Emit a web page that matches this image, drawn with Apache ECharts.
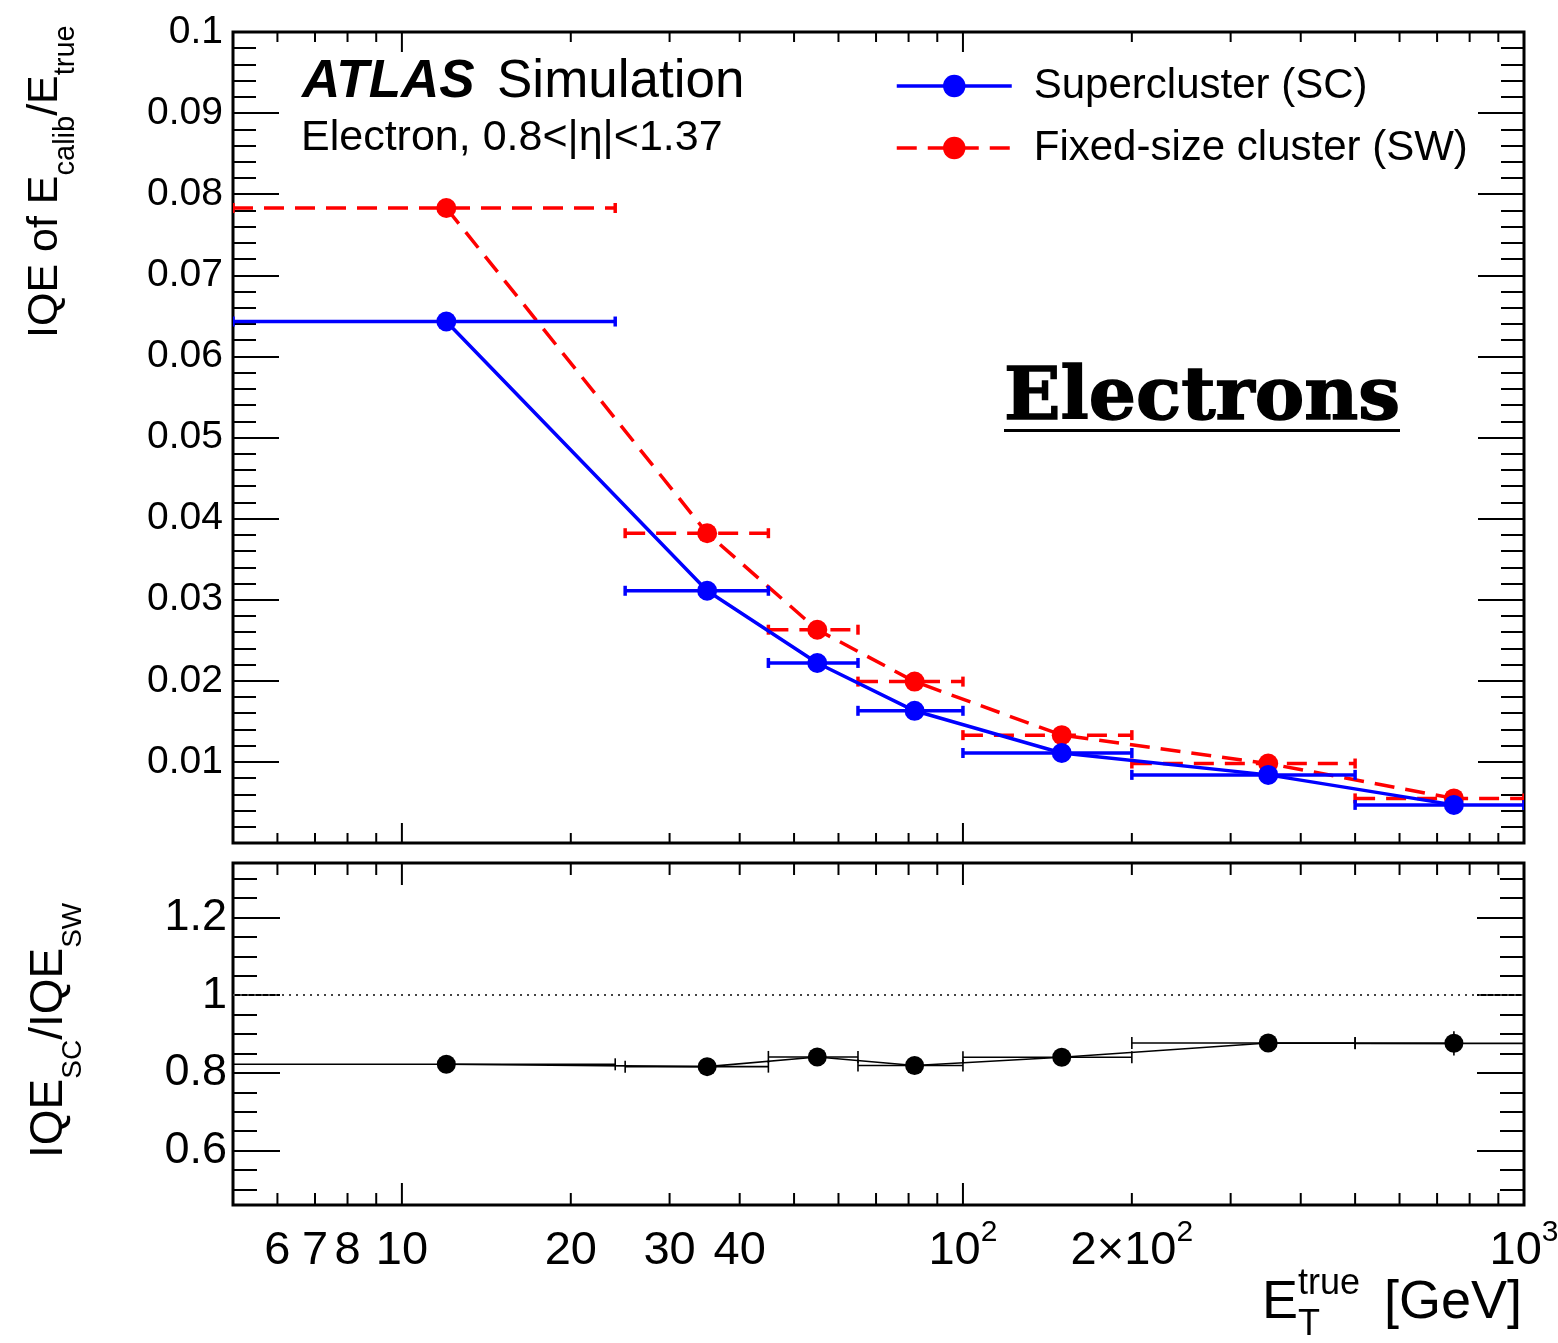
<!DOCTYPE html>
<html>
<head>
<meta charset="utf-8">
<title>IQE of E_calib/E_true vs E_T^true</title>
<script src="https://cdn.jsdelivr.net/npm/echarts@6/dist/echarts.min.js"></script>
<style>
  html, body { margin: 0; padding: 0; background: #fff; }
  #chart { width: 1558px; height: 1343px; }
</style>
</head>
<body>
<div id="chart"></div>
<script>
// ---- data -------------------------------------------------------------
// E_T^true bin centres and edges [GeV]
const etCentre = [12, 35, 55, 82, 150, 350, 750];
const binLow   = [5, 25, 45, 65, 100, 200, 500];
const binHigh  = [24, 45, 65, 100, 200, 500, 1000];
// IQE of E_calib/E_true
const iqeSC = [0.0643, 0.0311, 0.0222, 0.0163, 0.0111, 0.0084, 0.0047];
const iqeSW = [0.0783, 0.0382, 0.0263, 0.0199, 0.0133, 0.0098, 0.0055];
// ratio IQE_SC / IQE_SW and its statistical uncertainty
const ratio    = [0.822, 0.816, 0.841, 0.819, 0.840, 0.877, 0.876];
const ratioErr = [0.010, 0.010, 0.010, 0.010, 0.010, 0.015, 0.031];
// log x-axis ticks and their labels: [value, mantissa text, exponent text]
const xMajorTicks = [10, 100, 1000];
const xMinorTicks = [6, 7, 8, 9, 20, 30, 40, 50, 60, 70, 80, 90, 200, 300, 400, 500, 600, 700, 800, 900];
const xTickLabels = [[6, '6'], [7, '7'], [8, '8'], [10, '10'], [20, '20'], [30, '30'], [40, '40'],
                     [100, '10', '2'], [200, '2\u00d710', '2'], [1000, '10', '3']];

// ---- text helpers -----------------------------------------------------
const FONT = '"Liberation Sans", Arial, Helvetica, sans-serif';
const SERIF = '"DejaVu Serif", serif';
const KMID = 0.3465; // distance from 'middle' to alphabetic baseline, in em
const mctx = document.createElement('canvas').getContext('2d');
function measure(s, size, weight, style, family) {
  mctx.font = (style || 'normal') + ' ' + (weight || 'normal') + ' ' + size + 'px ' + (family || FONT);
  return mctx.measureText(s).width;
}
function txt(s, x, baseline, size, o) {
  o = o || {};
  const style = {
    text: s, fontSize: size, fontFamily: o.family || FONT, fontWeight: o.weight || 'normal',
    fontStyle: o.style || 'normal', fill: '#000', align: o.align || 'left', verticalAlign: 'middle'
  };
  if (o.stroke) { style.stroke = '#000'; style.lineWidth = o.stroke; }
  return { type: 'text', x: x, y: baseline - KMID * size, silent: true, scaleX: o.scaleX || 1, style: style };
}
// pieces laid out one after another on a common baseline (dy shifts sub/superscripts)
function run(pieces) {
  let x = 0;
  return pieces.map(function (p) {
    const el = txt(p.t, x, p.dy || 0, p.size, p);
    x += measure(p.t, p.size, p.weight, p.style, p.family);
    return el;
  });
}

// ---- custom renderers -------------------------------------------------
function xTicks(majorLen, minorLen) {
  return function (params, api) {
    const cs = params.coordSys;
    const px = api.coord([api.value(0), api.value(1)])[0];
    const len = api.value(2) ? majorLen : minorLen;
    const yb = cs.y + cs.height;
    const st = { stroke: '#000', lineWidth: 2 };
    return {
      type: 'group', children: [
        { type: 'line', shape: { x1: px, y1: yb, x2: px, y2: yb - len }, style: st },
        { type: 'line', shape: { x1: px, y1: cs.y, x2: px, y2: cs.y + len }, style: st }
      ]
    };
  };
}
function errBars(color, width, dash, cap) {
  return function (params, api) {
    const y = api.value(2);
    const a = api.coord([api.value(0), y]);
    const b = api.coord([api.value(1), y]);
    const solid = { stroke: color, lineWidth: width };
    const children = [
      { type: 'line', shape: { x1: a[0], y1: a[1], x2: b[0], y2: b[1] },
        style: { stroke: color, lineWidth: width, lineDash: dash } },
      { type: 'line', shape: { x1: a[0], y1: a[1] - cap, x2: a[0], y2: a[1] + cap }, style: solid },
      { type: 'line', shape: { x1: b[0], y1: b[1] - cap, x2: b[0], y2: b[1] + cap }, style: solid }
    ];
    const e = api.value(3);
    if (e) {
      const lo = api.coord([api.value(4), y - e]);
      const hi = api.coord([api.value(4), y + e]);
      children.push({ type: 'line', shape: { x1: lo[0], y1: lo[1], x2: hi[0], y2: hi[1] }, style: solid });
    }
    return { type: 'group', children: children };
  };
}
function xLabels(params, api) {
  const lab = xTickLabels[params.dataIndex];
  const cs = params.coordSys;
  const px = api.coord([api.value(0), api.value(1)])[0];
  const base = cs.y + cs.height + 62;
  const wb = measure(lab[1], 47);
  const ws = lab[2] ? measure(lab[2], 30) : 0;
  const x0 = px - (wb + ws) / 2;
  const children = [txt(lab[1], x0, base, 47)];
  if (lab[2]) children.push(txt(lab[2], x0 + wb, base - 24, 30));
  return { type: 'group', children: children };
}

// ---- series data ------------------------------------------------------
const zip = (xs, ys) => xs.map((x, i) => [x, ys[i]]);
const barData = (ys, es) => ys.map((y, i) => [binLow[i], binHigh[i], y, es ? es[i] : 0, etCentre[i]]);
const tickData = (yRef) => xMajorTicks.map(v => [v, yRef, 1]).concat(xMinorTicks.map(v => [v, yRef, 0]));

const fmt = v => (Math.abs(v) < 1e-9 ? '' : String(+v.toFixed(3)));

const chart = echarts.init(document.getElementById('chart'), null, { renderer: 'canvas' });

const hiddenX = {
  type: 'log', logBase: 10, min: 5, max: 1000,
  axisLine: { show: false }, axisTick: { show: false }, axisLabel: { show: false }, splitLine: { show: false }
};
const tickStyle = { color: '#000', width: 2 };
const tagScale = 396 / measure('Electrons', 72, 'bold', 'normal', SERIF);

chart.setOption({
  animation: false,
  backgroundColor: '#fff',
  grid: [
    { left: 233, top: 32, width: 1291, height: 811, show: true, borderColor: '#000', borderWidth: 3, backgroundColor: 'transparent' },
    { left: 233, top: 863, width: 1291, height: 342, show: true, borderColor: '#000', borderWidth: 3, backgroundColor: 'transparent' }
  ],
  xAxis: [
    Object.assign({ gridIndex: 0 }, hiddenX),
    Object.assign({ gridIndex: 1 }, hiddenX)
  ],
  yAxis: [
    {
      gridIndex: 0, type: 'value', min: 0, max: 0.1, interval: 0.01,
      axisLine: { show: false }, splitLine: { show: false },
      axisTick: { inside: true, length: 46, lineStyle: tickStyle },
      minorTick: { show: true, splitNumber: 5, length: 23, lineStyle: tickStyle },
      axisLabel: { fontSize: 39, fontFamily: FONT, color: '#000', margin: 10, formatter: fmt }
    },
    {
      gridIndex: 0, type: 'value', position: 'right', min: 0, max: 0.1, interval: 0.01,
      axisLine: { show: false }, splitLine: { show: false }, axisLabel: { show: false },
      axisTick: { inside: true, length: 46, lineStyle: tickStyle },
      minorTick: { show: true, splitNumber: 5, length: 23, lineStyle: tickStyle }
    },
    {
      gridIndex: 1, type: 'value', min: 0.46, max: 1.34, minInterval: 0.2, maxInterval: 0.2,
      axisLine: { show: false }, splitLine: { show: false },
      axisTick: { inside: true, length: 47, lineStyle: tickStyle },
      minorTick: { show: true, splitNumber: 4, length: 24, lineStyle: tickStyle },
      axisLabel: { fontSize: 45, fontFamily: FONT, color: '#000', margin: 6, formatter: fmt,
                   showMinLabel: false, showMaxLabel: false }
    },
    {
      gridIndex: 1, type: 'value', position: 'right', min: 0.46, max: 1.34, minInterval: 0.2, maxInterval: 0.2,
      axisLine: { show: false }, splitLine: { show: false }, axisLabel: { show: false },
      axisTick: { inside: true, length: 47, lineStyle: tickStyle },
      minorTick: { show: true, splitNumber: 4, length: 24, lineStyle: tickStyle }
    }
  ],
  legend: {
    orient: 'vertical', left: 895, top: 65, padding: 0,
    itemWidth: 115, itemHeight: 28, itemGap: 20,
    selectedMode: false,
    lineStyle: { width: 3.5 },
    textStyle: { fontSize: 42, fontFamily: FONT, color: '#000', lineHeight: 42, padding: [0, 0, 0, 17] },
    data: ['Supercluster (SC)', 'Fixed-size cluster (SW)']
  },
  series: [
    // log-axis ticks on both panels
    { type: 'custom', xAxisIndex: 0, yAxisIndex: 0, silent: true, z: 10, renderItem: xTicks(20, 10), data: tickData(0.05) },
    { type: 'custom', xAxisIndex: 1, yAxisIndex: 2, silent: true, z: 10, renderItem: xTicks(22, 12), data: tickData(1) },
    { type: 'custom', xAxisIndex: 1, yAxisIndex: 2, silent: true, z: 10, renderItem: xLabels,
      data: xTickLabels.map(l => [l[0], 1]) },

    // fixed-size cluster (SW)
    { type: 'custom', xAxisIndex: 0, yAxisIndex: 0, silent: true, clip: true, z: 2,
      encode: { x: [0, 1], y: 2 },
      renderItem: errBars('#ff0000', 3.5, [20, 11], 5), data: barData(iqeSW) },
    { name: 'Fixed-size cluster (SW)', type: 'line', xAxisIndex: 0, yAxisIndex: 0, z: 3,
      data: zip(etCentre, iqeSW), symbol: 'circle', symbolSize: 20,
      lineStyle: { color: '#ff0000', width: 3.5, type: [20, 11] }, itemStyle: { color: '#ff0000' } },

    // supercluster (SC)
    { type: 'custom', xAxisIndex: 0, yAxisIndex: 0, silent: true, clip: true, z: 4,
      encode: { x: [0, 1], y: 2 },
      renderItem: errBars('#0000ff', 3.5, null, 5), data: barData(iqeSC) },
    { name: 'Supercluster (SC)', type: 'line', xAxisIndex: 0, yAxisIndex: 0, z: 5,
      data: zip(etCentre, iqeSC), symbol: 'circle', symbolSize: 20,
      lineStyle: { color: '#0000ff', width: 3.5 }, itemStyle: { color: '#0000ff' } },

    // ratio panel
    { type: 'custom', xAxisIndex: 1, yAxisIndex: 2, silent: true, clip: true, z: 4,
      encode: { x: [0, 1], y: 2 },
      renderItem: errBars('#000', 1.6, null, 6), data: barData(ratio, ratioErr) },
    { name: 'ratio', type: 'line', xAxisIndex: 1, yAxisIndex: 2, z: 5,
      data: zip(etCentre, ratio), symbol: 'circle', symbolSize: 19,
      lineStyle: { color: '#000', width: 1.6 }, itemStyle: { color: '#000' },
      markLine: { silent: true, symbol: ['none', 'none'], label: { show: false },
                  lineStyle: { color: '#444', width: 2, type: [2, 5] }, data: [{ yAxis: 1 }] } }
  ],
  graphic: [
    // experiment label
    txt('ATLAS', 302, 101, 53, { weight: 'bold', style: 'italic' }),
    txt('Simulation', 497, 101, 53),
    txt('Electron, 0.8<|\u03b7|<1.37', 301, 153, 43),
    // particle tag
    txt('Electrons', 1004, 425, 72, { family: SERIF, weight: 'bold', stroke: 1.5, scaleX: tagScale }),
    { type: 'rect', silent: true, shape: { x: 1004, y: 429, width: 396, height: 3 }, style: { fill: '#000' } },
    // axis titles
    { type: 'group', x: 60, y: 338, rotation: Math.PI / 2, silent: true,
      children: run([{ t: 'IQE of E', size: 43 }, { t: 'calib', size: 29, dy: 16 },
                     { t: '/E', size: 43 }, { t: 'true', size: 29, dy: 16 }]) },
    { type: 'group', x: 65, y: 1158, rotation: Math.PI / 2, silent: true,
      children: run([{ t: 'IQE', size: 46 }, { t: 'SC', size: 28, dy: 18 },
                     { t: '/IQE', size: 46 }, { t: 'SW', size: 28, dy: 18 }]) },
    txt('E', 1262, 1322, 54),
    txt('true', 1298, 1297, 36),
    txt('T', 1298, 1338, 36),
    txt('[GeV]', 1522, 1322, 54, { align: 'right' })
  ]
});
</script>
</body>
</html>
